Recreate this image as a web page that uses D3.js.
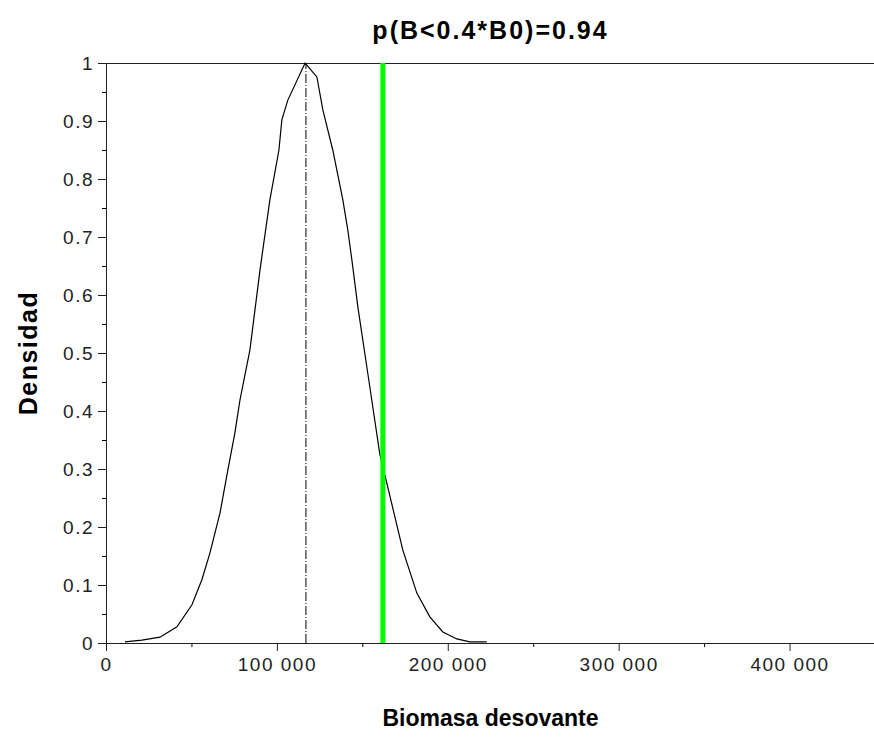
<!DOCTYPE html>
<html>
<head>
<meta charset="utf-8">
<script src="https://cdn.jsdelivr.net/npm/d3@7"></script>
<style>
  body { margin: 0; background: #fff; }
  svg { display: block; }
  .tick text { font-family: "Liberation Sans", Arial, sans-serif; font-size: 19px; fill: #222; letter-spacing: 1.5px; }
  .title, .label { font-family: "Liberation Sans", Arial, sans-serif; font-weight: bold; fill: #000; }
</style>
</head>
<body>
<svg id="chart" width="874" height="740"></svg>
<script>
// density curve
const biomasa = [11100, 21000, 31600, 41500, 50300, 56100, 60800, 66700, 71300, 75400, 78400,
  84200, 90100, 95900, 101200, 102900, 106400, 116500, 123400, 126900, 132700, 138600,
  141500, 143900, 147400, 153800, 160200, 164300, 173700, 181900, 189500, 197100,
  205300, 212900, 222800];
const densidad = [0.002, 0.005, 0.010, 0.028, 0.066, 0.109, 0.155, 0.224, 0.298, 0.362, 0.419,
  0.505, 0.643, 0.764, 0.850, 0.902, 0.936, 1.0, 0.976, 0.919, 0.850, 0.764,
  0.712, 0.660, 0.579, 0.453, 0.326, 0.276, 0.160, 0.086, 0.045, 0.019,
  0.007, 0.002, 0.002];

const moda = 117000;      // dash-dot line
const limite = 162000;    // 0.4*B0, green line

const xTicks = [0, 100000, 200000, 300000, 400000];
const xMinor = [50000, 150000, 250000, 350000];
const yTicks = [0, 0.1, 0.2, 0.3, 0.4, 0.5, 0.6, 0.7, 0.8, 0.9, 1];
const yLabels = ["0", "0.1", "0.2", "0.3", "0.4", "0.5", "0.6", "0.7", "0.8", "0.9", "1"];
const yMinor = [0.05, 0.15, 0.25, 0.35, 0.45, 0.55, 0.65, 0.75, 0.85, 0.95];

const titulo = "p(B<0.4*B0)=0.94";

const svg = d3.select("#chart");
const mLeft = 106, mRight = 875, mTop = 63, mBottom = 643;

const x = d3.scaleLinear().domain([0, 450000]).range([mLeft, mRight]);
const y = d3.scaleLinear().domain([0, 1]).range([mBottom, mTop]);

const fmt = d3.formatLocale({decimal: ".", thousands: " ", grouping: [3], currency: ["", ""]}).format(",");

// frame top
svg.append("line")
  .attr("x1", mLeft).attr("x2", mRight)
  .attr("y1", mTop + 0.5).attr("y2", mTop + 0.5)
  .attr("stroke", "#222");

// minor ticks
svg.append("g")
  .attr("transform", `translate(0,${mBottom})`)
  .call(d3.axisBottom(x).tickValues(xMinor).tickSize(4).tickFormat(""))
  .call(g => g.select(".domain").remove());
svg.append("g")
  .attr("transform", `translate(${mLeft},0)`)
  .call(d3.axisLeft(y).tickValues(yMinor).tickSize(4).tickFormat(""))
  .call(g => g.select(".domain").remove());

// major axes
svg.append("g")
  .attr("transform", `translate(0,${mBottom})`)
  .call(d3.axisBottom(x).tickValues(xTicks).tickSize(8).tickSizeOuter(0).tickPadding(7).tickFormat(fmt))
  .call(g => g.selectAll("line, path").attr("stroke", "#222"));
svg.append("g")
  .attr("transform", `translate(${mLeft},0)`)
  .call(d3.axisLeft(y).tickValues(yTicks).tickSize(8).tickSizeOuter(0).tickPadding(4)
    .tickFormat((d, i) => yLabels[i]))
  .call(g => g.selectAll("line, path").attr("stroke", "#222"));

// dash-dot line at the mode
svg.append("line")
  .attr("x1", x(moda)).attr("x2", x(moda))
  .attr("y1", y(0)).attr("y2", y(1))
  .attr("stroke", "#000")
  .attr("stroke-dasharray", "9,2,1,2");

// density curve
const line = d3.line().x((d, i) => x(biomasa[i])).y(d => y(d));
svg.append("path")
  .attr("d", line(densidad))
  .attr("fill", "none")
  .attr("stroke", "#000")
  .attr("stroke-width", 1.2);

// limit line
svg.append("line")
  .attr("x1", x(limite)).attr("x2", x(limite))
  .attr("y1", y(0)).attr("y2", y(1))
  .attr("stroke", "#00ff00")
  .attr("stroke-width", 5);

svg.append("text")
  .attr("class", "title")
  .attr("x", (mLeft + mRight) / 2).attr("y", 39)
  .attr("text-anchor", "middle")
  .attr("font-size", 25)
  .attr("letter-spacing", 2)
  .text(titulo);

svg.append("text")
  .attr("class", "label")
  .attr("x", (mLeft + mRight) / 2).attr("y", 726)
  .attr("text-anchor", "middle")
  .attr("font-size", 23)
  .text("Biomasa desovante");

svg.append("text")
  .attr("class", "label")
  .attr("transform", `translate(37,${(mTop + mBottom) / 2}) rotate(-90)`)
  .attr("text-anchor", "middle")
  .attr("font-size", 25)
  .attr("letter-spacing", 1.5)
  .text("Densidad");
</script>
</body>
</html>
